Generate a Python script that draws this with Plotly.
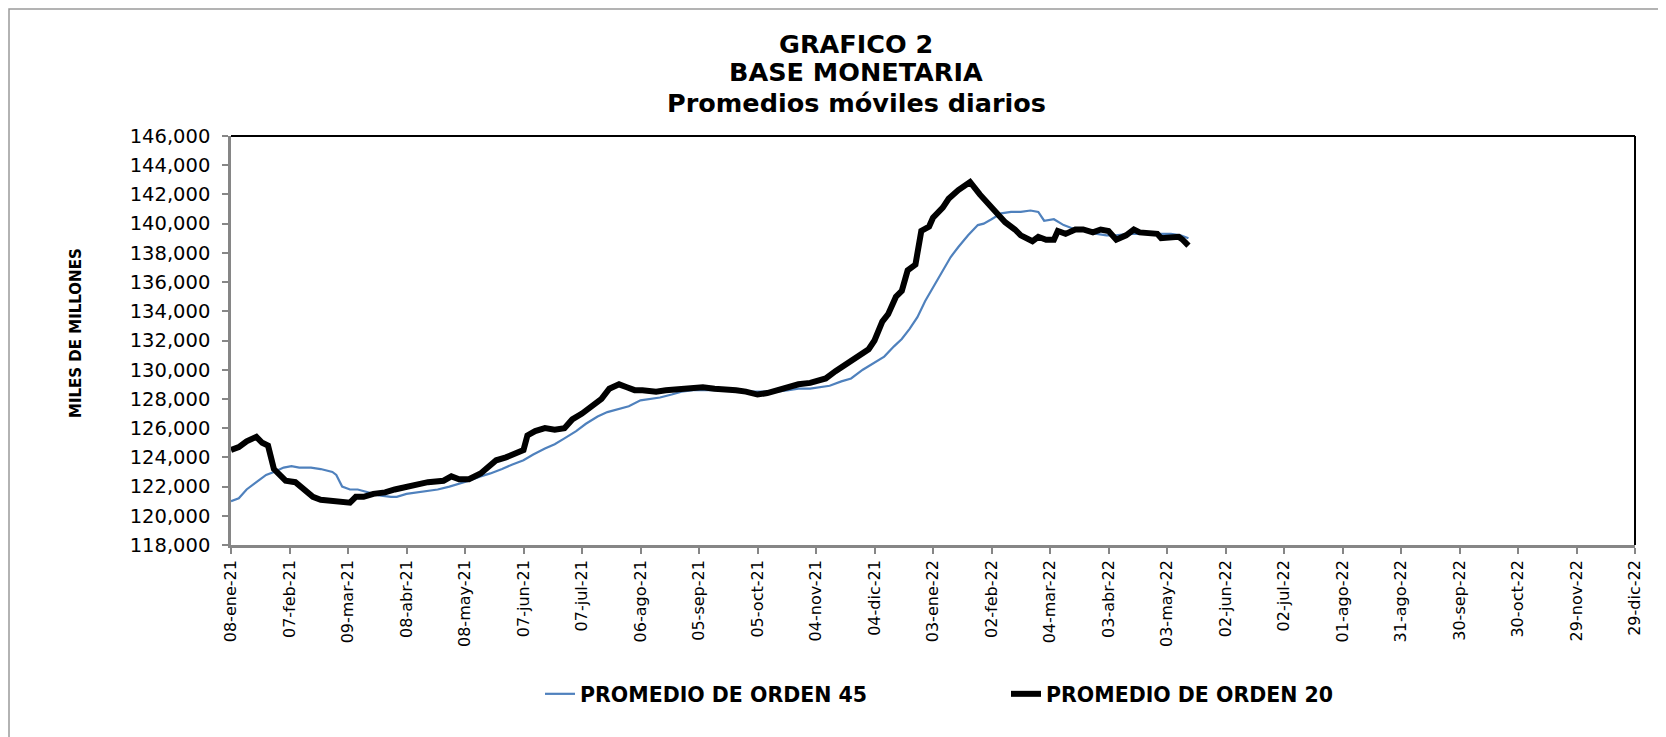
import plotly.graph_objects as go

# ---- data ----
dates_45 = ["2021-01-08","2021-01-12","2021-01-16","2021-01-22","2021-01-26","2021-01-30","2021-02-04","2021-02-08",
            "2021-02-12","2021-02-18","2021-02-23","2021-03-01","2021-03-03","2021-03-06","2021-03-10","2021-03-14",
            "2021-03-20","2021-03-25","2021-03-31","2021-04-03","2021-04-08","2021-04-13","2021-04-19","2021-04-24",
            "2021-04-30","2021-05-05","2021-05-10","2021-05-16","2021-05-21","2021-05-27","2021-06-01","2021-06-07",
            "2021-06-12","2021-06-18","2021-06-23","2021-06-28","2021-07-04","2021-07-09","2021-07-15","2021-07-20",
            "2021-07-26","2021-07-31","2021-08-06","2021-08-11","2021-08-16","2021-08-22","2021-08-27","2021-09-02",
            "2021-09-07","2021-09-13","2021-09-18","2021-09-24","2021-09-29","2021-10-05","2021-10-10","2021-10-15",
            "2021-10-21","2021-10-26","2021-11-01","2021-11-06","2021-11-11","2021-11-17","2021-11-22","2021-11-28",
            "2021-12-03","2021-12-09","2021-12-14","2021-12-18","2021-12-22","2021-12-26","2021-12-30","2022-01-03",
            "2022-01-08","2022-01-12","2022-01-16","2022-01-21","2022-01-26","2022-01-29","2022-02-02","2022-02-07",
            "2022-02-12","2022-02-17","2022-02-22","2022-02-26","2022-03-01","2022-03-06","2022-03-11","2022-03-17",
            "2022-03-22","2022-03-28","2022-04-02","2022-04-07","2022-04-13","2022-04-18","2022-04-24","2022-04-29",
            "2022-05-05","2022-05-10","2022-05-14"]
orden_45 = [121000,121200,121800,122400,122800,123000,123300,123400,
            123300,123300,123200,123000,122800,122000,121800,121800,
            121600,121400,121300,121300,121500,121600,121700,121800,
            122000,122200,122400,122700,122900,123200,123500,123800,
            124200,124600,124900,125300,125800,126300,126800,127100,
            127300,127500,127900,128000,128100,128300,128500,128600,
            128600,128600,128600,128500,128500,128500,128500,128500,
            128600,128700,128700,128800,128900,129200,129400,130000,
            130400,130900,131600,132100,132800,133600,134700,135600,
            136700,137700,138400,139200,139900,140000,140300,140700,
            140800,140800,140900,140800,140200,140300,139900,139600,
            139500,139300,139200,139200,139300,139300,139300,139300,
            139300,139200,139000]

dates_20 = ["2021-01-08","2021-01-12","2021-01-16","2021-01-21","2021-01-24","2021-01-27","2021-01-30","2021-02-03",
            "2021-02-05","2021-02-10","2021-02-15","2021-02-19","2021-02-23","2021-03-01","2021-03-06","2021-03-10",
            "2021-03-13","2021-03-17","2021-03-22","2021-03-28","2021-04-02","2021-04-08","2021-04-13","2021-04-19",
            "2021-04-27","2021-05-01","2021-05-05","2021-05-10","2021-05-16","2021-05-20","2021-05-24","2021-05-29",
            "2021-06-04","2021-06-07","2021-06-09","2021-06-13","2021-06-18","2021-06-23","2021-06-28","2021-07-02",
            "2021-07-07","2021-07-12","2021-07-17","2021-07-21","2021-07-26","2021-07-30","2021-08-03","2021-08-07",
            "2021-08-14","2021-08-19","2021-08-27","2021-09-02","2021-09-07","2021-09-13","2021-09-18","2021-09-24",
            "2021-09-29","2021-10-05","2021-10-10","2021-10-15","2021-10-21","2021-10-26","2021-11-01","2021-11-04",
            "2021-11-09","2021-11-14","2021-11-20","2021-11-25","2021-12-01","2021-12-04","2021-12-08","2021-12-11",
            "2021-12-15","2021-12-18","2021-12-21","2021-12-25","2021-12-28","2022-01-01","2022-01-03","2022-01-08",
            "2022-01-11","2022-01-16","2022-01-19","2022-01-22","2022-01-27","2022-01-31","2022-02-04","2022-02-09",
            "2022-02-14","2022-02-17","2022-02-23","2022-02-26","2022-03-02","2022-03-06","2022-03-08","2022-03-12",
            "2022-03-17","2022-03-21","2022-03-26","2022-03-30","2022-04-03","2022-04-07","2022-04-12","2022-04-16",
            "2022-04-19","2022-04-24","2022-04-28","2022-04-30","2022-05-05","2022-05-09","2022-05-11","2022-05-14"]
orden_20 = [124500,124700,125100,125400,125000,124800,123200,122700,
            122400,122300,121800,121300,121100,121000,120950,120900,
            121300,121300,121500,121600,121800,122000,122200,122300,
            122400,122700,122500,122500,122900,123400,123800,124000,
            124300,124500,125500,125800,126000,125900,126000,126600,
            127000,127500,128000,128700,129000,128800,128600,128600,
            128500,128600,128700,128700,128800,128700,128700,128600,
            128500,128300,128400,128600,128900,129000,129100,129200,
            129400,129900,130400,130800,131400,132000,133300,133800,
            135000,135400,136800,137200,139500,139800,140400,141100,
            141700,142300,142600,142850,142000,141400,140700,140100,
            139600,139200,138800,139100,138900,138900,139500,139300,
            139600,139600,139400,139600,139500,138900,139200,139600,
            139400,139300,139300,139000,139100,139100,138900,138500]

tick_dates = ["2021-01-08","2021-02-07","2021-03-09","2021-04-08","2021-05-08","2021-06-07","2021-07-07",
              "2021-08-06","2021-09-05","2021-10-05","2021-11-04","2021-12-04","2022-01-03","2022-02-02",
              "2022-03-04","2022-04-03","2022-05-03","2022-06-02","2022-07-02","2022-08-01","2022-08-31",
              "2022-09-30","2022-10-30","2022-11-29","2022-12-29"]
tick_labels = ["08-ene-21","07-feb-21","09-mar-21","08-abr-21","08-may-21","07-jun-21","07-jul-21",
               "06-ago-21","05-sep-21","05-oct-21","04-nov-21","04-dic-21","03-ene-22","02-feb-22",
               "04-mar-22","03-abr-22","03-may-22","02-jun-22","02-jul-22","01-ago-22","31-ago-22",
               "30-sep-22","30-oct-22","29-nov-22","29-dic-22"]

FONT = "DejaVu Sans, Verdana, sans-serif"
OFF = 8  # page body margin around the plot div
W, H = 1666 - OFF, 737 - OFF
# plot area edges in page pixels
PL, PR, PT, PB = 231, 1635, 136, 545
L, R, T, B = PL - OFF, PR - OFF, PT - OFF, PB - OFF

fig = go.Figure()
fig.add_trace(go.Scatter(x=dates_45, y=orden_45, mode="lines", name="PROMEDIO DE ORDEN 45",
                         line=dict(color="#4F81BD", width=2.2)))
fig.add_trace(go.Scatter(x=dates_20, y=orden_20, mode="lines", name="PROMEDIO DE ORDEN 20",
                         line=dict(color="#000000", width=6)))

def px_x(p):
    return (p - PL) / (PR - PL)

def px_y(p):
    return (PB - p) / (PB - PT)

fig.update_layout(
    width=W, height=H,
    margin=dict(l=L, r=W - R, t=T, b=H - B, autoexpand=False),
    paper_bgcolor="white", plot_bgcolor="white",
    font=dict(family=FONT, color="black"),
    showlegend=True,
    legend=dict(orientation="h", x=px_x(540), xanchor="left", y=px_y(694), yanchor="middle",
                font=dict(family=FONT, size=20.5, color="black", weight="bold"),
                entrywidth=421, entrywidthmode="pixels", bgcolor="rgba(0,0,0,0)"),
    xaxis=dict(type="date", range=["2021-01-08", "2022-12-29"], automargin=False,
               tickmode="array", tickvals=tick_dates, ticktext=tick_labels, tickangle=-90,
               tickfont=dict(family=FONT, size=16, color="black"),
               ticks="outside", ticklen=6, tickwidth=1.5, tickcolor="#868686",
               showline=True, linecolor="#868686", linewidth=2.5, showgrid=False, zeroline=False),
    yaxis=dict(range=[118000, 146000], tickmode="linear", tick0=118000, dtick=2000, tickformat=",d",
               automargin=False,
               tickfont=dict(family=FONT, size=19.5, color="black"),
               ticks="outside", ticklen=6, tickwidth=1.5, tickcolor="#868686", ticklabelstandoff=8,
               showline=True, linecolor="#868686", linewidth=2.5, showgrid=False, zeroline=False),
)

# Title lines
for txt, yy in [("GRAFICO 2", 44), ("BASE MONETARIA", 72), ("Promedios móviles diarios", 103)]:
    fig.add_annotation(text="<b>%s</b>" % txt, xref="paper", yref="paper", x=px_x(856), y=px_y(yy),
                       xanchor="center", yanchor="middle", showarrow=False,
                       font=dict(family=FONT, size=25.5, color="black"))

# y-axis title placed to match reference
fig.add_annotation(text="<b>MILES DE MILLONES</b>", xref="paper", yref="paper", x=px_x(76), y=px_y(333),
                   xanchor="center", yanchor="middle", textangle=-90, showarrow=False,
                   font=dict(family=FONT, size=15, color="black"))

# plot frame: top and right in black
fig.add_shape(type="line", xref="paper", yref="paper", x0=0, x1=1, y0=1, y1=1,
              line=dict(color="black", width=2))
fig.add_shape(type="line", xref="paper", yref="paper", x0=1, x1=1, y0=0, y1=1,
              line=dict(color="black", width=2))
# outer chart border (as close to the page edge as the figure allows)
fig.add_shape(type="rect", xref="paper", yref="paper", x0=px_x(9), x1=px_x(1700), y0=px_y(9), y1=px_y(760),
              line=dict(color="#9a9a9a", width=1.5), layer="below")

fig.write_html("out.html")
